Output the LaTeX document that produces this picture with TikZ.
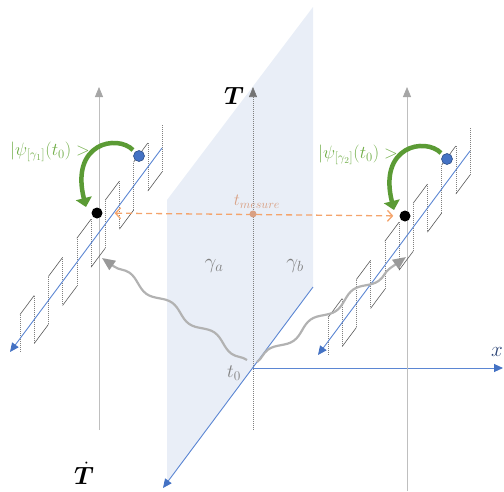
\documentclass[tikz,border=0pt]{standalone}
\usepackage{fix-cm}
\usepackage{bm}
\usetikzlibrary{arrows.meta,decorations.pathmorphing}
\definecolor{planefill}{HTML}{E9EEF7}
\definecolor{axisblue}{HTML}{5B86D3}
\definecolor{tipblue}{HTML}{4472C4}
\definecolor{psigreen}{HTML}{70AD47}
\definecolor{flipgreen}{HTML}{5B9B35}
\definecolor{mesorange}{HTML}{F4A46C}
\definecolor{mestext}{HTML}{D9A083}
\definecolor{xdark}{HTML}{2E4677}
\begin{document}
\begin{tikzpicture}[x=1pt, y=-1pt,
  plane/.style={fill=planefill, draw=none},
  blueaxis/.style={draw=axisblue, line width=0.9pt, -{Triangle[length=9pt,width=8pt,color=tipblue]}},
  timeaxis/.style={draw=black!50, line width=0.6pt, dash pattern=on 1pt off 1pt, -{Triangle[length=10pt,width=8pt,color=black!55]}},
  sideaxis/.style={draw=black!25, line width=0.8pt, -{Triangle[length=10pt,width=8pt,color=black!35]}},
  wavev/.style={draw=black!50, line width=0.5pt, dash pattern=on 1pt off 1pt},
  waveh/.style={draw=black!65, line width=0.6pt},
  bluedot/.style={circle, fill=tipblue, draw=tipblue!70!black, line width=0.6pt, inner sep=0pt, minimum size=11pt},
  blackdot/.style={circle, fill=black, inner sep=0pt, minimum size=11pt},
  flip/.style={draw=flipgreen, line width=4.5pt, -{Triangle[length=9pt,width=16pt]}},
  measure/.style={draw=mesorange, line width=1.3pt, dash pattern=on 6pt off 4pt, {Straight Barb[length=5pt,width=11pt]}-{Straight Barb[length=5pt,width=11pt]}, shorten <=12pt, shorten >=6pt},
  mesdot/.style={circle, fill=mestext, inner sep=0pt, minimum size=7pt},
  photon/.style={draw=black!30, line width=2.2pt, decorate, decoration={snake, amplitude=3.8pt, segment length=52pt, post length=12pt}, -{Triangle[length=13pt,width=11pt,color=black!40]}},
  psi/.style={text=psigreen, font=\fontsize{18}{21}\selectfont},
  lab/.style={text=black!50, font=\fontsize{21}{24}\selectfont},
  axlab/.style={font=\fontsize{25}{28}\selectfont}
]
  \useasboundingbox (0,0) rectangle (504,491);
  \fill[plane] (167,200) -- (313,7) -- (313,287) -- (167,483) -- cycle;

  \coordinate (O) at (253,368);
  \draw[timeaxis] (253,430) -- (253,87);
  \draw[blueaxis] (313,287) -- (163,488);
  \draw[blueaxis] (O) -- (503,368);
  \draw[sideaxis] (99,430) -- (99,87);
  \draw[sideaxis] (407,491) -- (407,87);

  \node[axlab] (Tlab) at (234,96) {$\bm{T}$};
  \node[axlab] (Tdlab) at (84,473) {$\dot{\bm{T}}$};
  \node[axlab, text=xdark, font=\fontsize{21}{24}\selectfont] (xlab) at (497,352) {$x$};
  \node[lab, font=\fontsize{19}{22}\selectfont] (t0lab) at (234,373) {$t_0$};
  \node[lab] (galab) at (214,266) {$\gamma_a$};
  \node[lab] (gblab) at (295,266) {$\gamma_b$};

  \foreach \dx/\dy/\k in {0/0/1, 308/3/2}{
    \begin{scope}[shift={(\dx,\dy)}]
      \foreach \i in {0,...,9}{
        \pgfmathsetmacro{\xa}{20+14.2*\i}
        \pgfmathsetmacro{\xb}{\xa+14.2}
        \pgfmathsetmacro{\ya}{148+(162-\xa)*1.342}
        \pgfmathsetmacro{\yb}{\ya-14.2*1.342}
        \pgfmathsetmacro{\s}{24*(2*mod(\i,2)-1)}
        \pgfmathsetmacro{\yst}{\i==0 ? \ya+13 : \ya-\s}
        \pgfmathsetmacro{\yen}{\ya+\s}
        \pgfmathsetmacro{\ybe}{\yb+\s}
        \draw[wavev] (\xa,\yst) -- (\xa,\yen);
        \draw[waveh] (\xa,\yen) -- (\xb,\ybe);
      }
      \draw[wavev] (162,172) -- (162,124);
      \draw[blueaxis] (162,148) -- (10,352);
      \node[bluedot] (blu\k) at (139,156) {};
      \node[blackdot] (blk\k) at (97,213) {};
      \node[psi] (psi\k) at (50,152) {$|\psi_{[\gamma_\k]}(t_0)>$};
      \draw[flip] ([shift={(-6,-6)}]blu\k.center) .. controls +(-16,-16) and +(-16,-64) .. ([shift={(-11,-6)}]blk\k.center);
    \end{scope}
  }

  \draw[measure] (blk1) -- (blk2);
  \node[mesdot] (tmes) at (253,214) {};
  \node[text=mestext, font=\fontsize{17}{20}\selectfont] (tmeslab) at (257,202) {$t_{mesure}$};

  \coordinate (srcA) at (247,360);
  \coordinate (dstA) at (102,258);
  \coordinate (srcB) at (257,362);
  \coordinate (dstB) at (406,257);
  \draw[photon] (srcA) -- (dstA);
  \draw[photon] (srcB) -- (dstB);
\end{tikzpicture}
\end{document}
